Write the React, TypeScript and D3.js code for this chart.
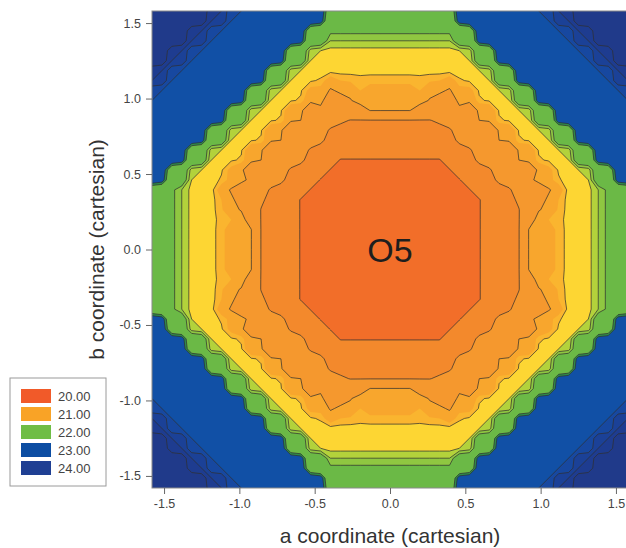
import React, { useEffect, useRef } from "react";
import * as d3 from "d3";

const W = 626;
const H = 548;
const extent = 1.58;

const xTicks = [-1.5, -1.0, -0.5, 0.0, 0.5, 1.0, 1.5];
const yTicks = [-1.5, -1.0, -0.5, 0.0, 0.5, 1.0, 1.5];

// contour levels (energy, arbitrary units), the fill above each level and whether a line is drawn
const levels = [0, 14.1, 17.9, 22.8, 24.3, 24.9, 27.0, 27.5, 28.0, 30.0, 30.4, 39.0, 40.0, 41.0, 42.0];
const levelColors = [
  "#f26e29", "#f3892c", "#f5982e", "#f8a62d", "#fab52f", "#fdd633", "#b3d23b", "#8fc741",
  "#6bb946", "#2e8b4a", "#1150a6", "#1748a0", "#1b4197", "#1e3c90", "#203a8a",
];
const levelLines = [false, true, true, true, false, true, true, true, true, true, true, true, true, true, true];

const legendLabels = ["20.00", "21.00", "22.00", "23.00", "24.00"];
const legendColors = ["#f15a29", "#f9a326", "#6fbd45", "#0c4da2", "#1f3f93"];

const siteLabel = "O5";

// one quadrant of the map, upper triangle: row t holds the values for s = t..24
// (grid step 1.58/24 along a and b, map symmetric in |a|, |b|)
const energyRows = [
  [5.5, 6.4, 7.4, 8.3, 9.3, 10.2, 11.2, 12.1, 13.1, 14.0, 15.0, 15.9, 16.9, 17.8, 22.9, 23.4, 23.9, 24.5, 25.2, 26.0, 26.8, 27.5, 28.2, 28.6, 29.0],
  [6.4, 7.4, 8.3, 9.3, 10.2, 11.2, 12.1, 13.1, 14.0, 15.0, 15.9, 16.9, 17.8, 22.9, 23.4, 23.9, 24.5, 25.2, 26.0, 26.8, 27.5, 28.2, 28.6, 29.0],
  [7.4, 8.3, 9.3, 10.2, 11.2, 12.1, 13.1, 14.0, 15.0, 15.9, 16.9, 17.8, 22.9, 23.4, 23.9, 24.5, 25.2, 26.0, 26.8, 27.5, 28.2, 28.6, 29.0],
  [8.3, 9.3, 10.2, 11.2, 12.1, 13.1, 14.0, 15.0, 15.9, 16.9, 17.8, 21.0, 24.0, 24.3, 24.6, 25.2, 26.0, 26.8, 27.5, 28.2, 28.6, 29.0],
  [9.3, 10.2, 11.2, 12.1, 13.1, 14.0, 15.0, 15.9, 16.9, 17.8, 20.5, 22.6, 23.6, 24.4, 25.2, 26.0, 26.8, 27.5, 28.2, 28.6, 29.0],
  [10.2, 11.2, 12.1, 13.1, 14.0, 15.0, 16.4, 17.0, 18.4, 20.0, 22.1, 23.1, 24.3, 25.2, 26.0, 26.8, 27.5, 28.2, 28.8, 29.0],
  [12.0, 13.0, 14.0, 15.0, 15.6, 17.0, 17.6, 19.0, 20.0, 21.5, 22.6, 23.6, 25.2, 26.0, 26.8, 27.5, 28.2, 29.0, 29.2],
  [14.0, 15.0, 16.4, 17.0, 18.4, 19.0, 20.8, 22.3, 23.3, 23.9, 24.8, 25.2, 26.8, 27.0, 28.8, 29.0, 30.8, 31.0],
  [15.6, 17.0, 17.6, 19.0, 19.2, 21.0, 22.0, 23.0, 23.9, 25.0, 25.2, 27.0, 27.2, 29.0, 29.2, 31.0, 31.2],
  [18.4, 19.0, 20.8, 21.0, 22.8, 23.0, 24.8, 25.0, 26.8, 27.0, 28.8, 29.0, 30.8, 31.0, 32.8, 33.0],
  [19.2, 21.0, 21.2, 23.0, 23.2, 25.0, 25.2, 27.0, 27.2, 29.0, 29.2, 31.0, 31.2, 33.0, 33.2],
  [22.8, 23.0, 24.8, 25.0, 26.8, 27.0, 28.8, 29.0, 30.8, 31.0, 32.8, 33.0, 34.8, 35.0],
  [23.2, 25.0, 25.2, 27.0, 27.2, 29.0, 29.2, 31.0, 31.2, 33.0, 33.2, 35.0, 35.2],
  [26.8, 27.0, 28.8, 29.0, 30.8, 31.0, 32.8, 33.0, 34.8, 35.0, 36.8, 37.0],
  [27.2, 29.0, 29.2, 31.0, 31.2, 33.0, 33.2, 35.0, 35.2, 37.0, 37.2],
  [30.8, 31.0, 32.8, 33.0, 34.8, 35.0, 36.8, 37.0, 38.8, 39.0],
  [31.2, 33.0, 33.2, 35.0, 35.2, 37.0, 37.2, 39.0, 39.2],
  [34.8, 35.0, 36.8, 37.0, 38.8, 39.0, 40.8, 41.0],
  [35.2, 37.0, 37.2, 39.0, 39.2, 41.0, 41.2],
  [38.8, 39.0, 40.8, 41.0, 42.8, 43.0],
  [39.2, 41.0, 41.2, 43.0, 43.2],
  [42.8, 43.0, 44.8, 45.0],
  [43.2, 45.0, 45.2],
  [46.8, 47.0],
  [47.2],
];

const font = "'Liberation Sans', Arial, sans-serif";

const x = d3.scaleLinear().domain([-extent, extent]).range([152, 628]);
const y = d3.scaleLinear().domain([-extent, extent]).range([488, 11]);

function buildGrid() {
  const half = energyRows.length - 1;
  const size = 2 * half + 1;
  const values: number[] = new Array(size * size);
  for (let r = 0; r < size; r++) {
    for (let c = 0; c < size; c++) {
      const i = Math.abs(half - r);
      const j = Math.abs(c - half);
      const s = Math.max(i, j);
      const t = Math.min(i, j);
      values[r * size + c] = energyRows[t][s - t];
    }
  }
  return { values, size, half };
}

export default function App() {
  const xAxisRef = useRef<SVGGElement>(null);
  const yAxisRef = useRef<SVGGElement>(null);

  const { values, size, half } = buildGrid();
  const step = extent / half;
  const contours = d3.contours().size([size, size]).thresholds(levels)(values);
  const proj = d3.geoTransform({
    point(px: number, py: number) {
      this.stream.point(x((px - 0.5 - half) * step), y((half - (py - 0.5)) * step));
    },
  });
  const path = d3.geoPath(proj);

  useEffect(() => {
    const fmt = (d: number) => d.toFixed(1);
    const gx = d3.select(xAxisRef.current!);
    gx.call(d3.axisBottom(x).tickValues(xTicks).tickFormat(fmt as any).tickSize(6).tickPadding(5));
    const gy = d3.select(yAxisRef.current!);
    gy.call(d3.axisLeft(y).tickValues(yTicks).tickFormat(fmt as any).tickSize(6).tickPadding(5));
    [gx, gy].forEach((g) => {
      g.select(".domain").remove();
      g.selectAll(".tick line").attr("stroke", "#666");
      g.selectAll(".tick text")
        .attr("fill", "#444")
        .style("font-size", "12.5px")
        .style("font-family", font);
    });
  }, []);

  const [x0, x1] = x.range();
  const [y0, y1] = y.range();

  return (
    <svg
      width={W}
      height={H}
      style={{ position: "absolute", left: 0, top: 0, background: "#fff" }}
      fontFamily={font}
    >
      <defs>
        <clipPath id="plot-clip">
          <rect x={x0} y={y1} width={x1 - x0} height={y0 - y1} />
        </clipPath>
      </defs>

      <g clipPath="url(#plot-clip)">
        {contours.map((c, k) => (
          <path key={"f" + k} d={path(c as any) || ""} fill={levelColors[k]} stroke="none" />
        ))}
        {contours.map((c, k) =>
          levelLines[k] ? (
            <path
              key={"l" + k}
              d={path(c as any) || ""}
              fill="none"
              stroke="#2f2f2f"
              strokeWidth={0.85}
              strokeOpacity={0.85}
            />
          ) : null
        )}
      </g>
      <rect x={x0} y={y1} width={x1 - x0} height={y0 - y1} fill="none" stroke="#8a8a8a" strokeWidth={1} />

      <text x={x(0)} y={y(0)} dy={12} textAnchor="middle" fontSize={34} fill="#1e1e1e">
        {siteLabel}
      </text>

      <g ref={xAxisRef} transform={`translate(0,${y0})`} />
      <g ref={yAxisRef} transform={`translate(${x0},0)`} />

      <text x={x(0)} y={543} textAnchor="middle" fontSize={21} fill="#333">
        a coordinate (cartesian)
      </text>
      <text
        transform={`translate(104,${y(0)}) rotate(-90)`}
        textAnchor="middle"
        fontSize={21}
        fill="#333"
      >
        b coordinate (cartesian)
      </text>

      <g transform="translate(10,378)">
        <rect x={0} y={0} width={96} height={108} fill="#fff" stroke="#9a9a9a" strokeWidth={1} />
        {legendLabels.map((lab, i) => (
          <g key={lab} transform={`translate(0,${11 + i * 18})`}>
            <rect x={11} y={0} width={30} height={14} fill={legendColors[i]} />
            <text x={48} y={11.5} fontSize={13} fill="#444">
              {lab}
            </text>
          </g>
        ))}
      </g>
    </svg>
  );
}
